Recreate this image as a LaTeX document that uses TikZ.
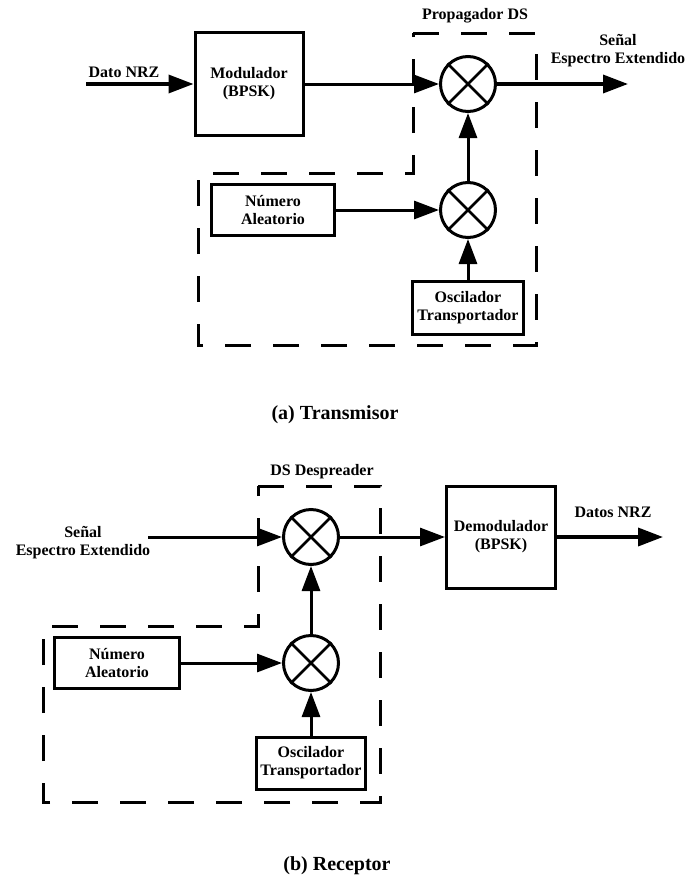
\documentclass[tikz,border=0pt]{standalone}
\usepackage{fontspec}
\setmainfont{Liberation Serif}
\usetikzlibrary{arrows.meta}
\begin{document}
\begin{tikzpicture}[x=1pt,y=-1pt,
  lbl/.style={font=\bfseries\fontsize{16}{18}\selectfont, align=center, inner sep=0pt},
  captiontext/.style={font=\bfseries\fontsize{20}{22}\selectfont, inner sep=0pt},
  blk/.style={draw, line width=3pt, font=\bfseries\fontsize{16}{18}\selectfont, align=center, inner sep=0pt},
  mixer/.style={draw, circle, line width=3pt, minimum size=55pt, inner sep=0pt},
  conn/.style={line width=3pt, -{Triangle[length=25pt,width=18pt]}},
  frame/.style={line width=3pt, dash pattern=on 26pt off 22pt},
]
\useasboundingbox (0,0) rectangle (691,881);

% ---------------- transmitter ----------------
\node[lbl] (dato) at (124,72) {Dato NRZ};
\coordinate (din) at (86,84);
\node[blk, minimum width=108pt, minimum height=103pt] (mod) at (249,84) {Modulador\\(BPSK)};
\node[mixer] (m1) at (468,84) {};
\node[mixer] (m2) at (468,210) {};
\node[blk, minimum width=123pt, minimum height=51pt] (num1) at (273,210) {Número\\Aleatorio};
\node[blk, minimum width=111pt, minimum height=53pt] (osc1) at (468,308) {Oscilador\\Transportador};
\coordinate (tout) at (628,84);
\node[lbl] (tsig) at (618,51) {Señal\\Espectro Extendido};
\node[lbl] (prop) at (475,16) {Propagador DS};
\draw[frame] (413,33) -- (536,33) -- (536,345) -- (198,345) -- (198,173) -- (413,173) -- cycle;

\draw[conn, line width=3.5pt] (din) -- (mod.west);
\draw[conn] (mod.east) -- (m1.west);
\draw[conn] (num1.east) -- (m2.west);
\draw[conn] (osc1.north) -- (m2.south);
\draw[conn] (m2.north) -- (m1.south);
\draw[conn, line width=3.5pt] (m1.east) -- (tout);
\node[captiontext] (capa) at (335,415) {(a) Transmisor};

% ---------------- receiver ----------------
\node[lbl] (rsig) at (83,543) {Señal\\Espectro Extendido};
\coordinate (rin) at (148,537);
\node[mixer] (m3) at (311,537) {};
\node[mixer] (m4) at (311,663) {};
\node[blk, minimum width=109pt, minimum height=102pt] (dem) at (501,537) {Demodulador\\(BPSK)};
\coordinate (rout) at (663,537);
\node[lbl] (datos) at (613,512) {Datos NRZ};
\node[blk, minimum width=125pt, minimum height=51pt] (num2) at (117,663) {Número\\Aleatorio};
\node[blk, minimum width=109pt, minimum height=52pt] (osc2) at (311,763) {Oscilador\\Transportador};
\node[lbl] (desp) at (322,472) {DS Despreader};
\draw[frame] (258,486) -- (380,486) -- (380,802) -- (43,802) -- (43,626) -- (258,626) -- cycle;

\draw[conn] (rin) -- (m3.west);
\draw[conn] (m3.east) -- (dem.west);
\draw[conn, line width=3.5pt] (dem.east) -- (rout);
\draw[conn] (num2.east) -- (m4.west);
\draw[conn] (osc2.north) -- (m4.south);
\draw[conn] (m4.north) -- (m3.south);
\node[captiontext] (capb) at (337,866) {(b) Receptor};

% crosses inside the mixers
\foreach \m in {m1,m2,m3,m4}
  \draw[line width=2.6pt] (\m.north east) -- (\m.south west)
                          (\m.north west) -- (\m.south east);
\end{tikzpicture}
\end{document}
